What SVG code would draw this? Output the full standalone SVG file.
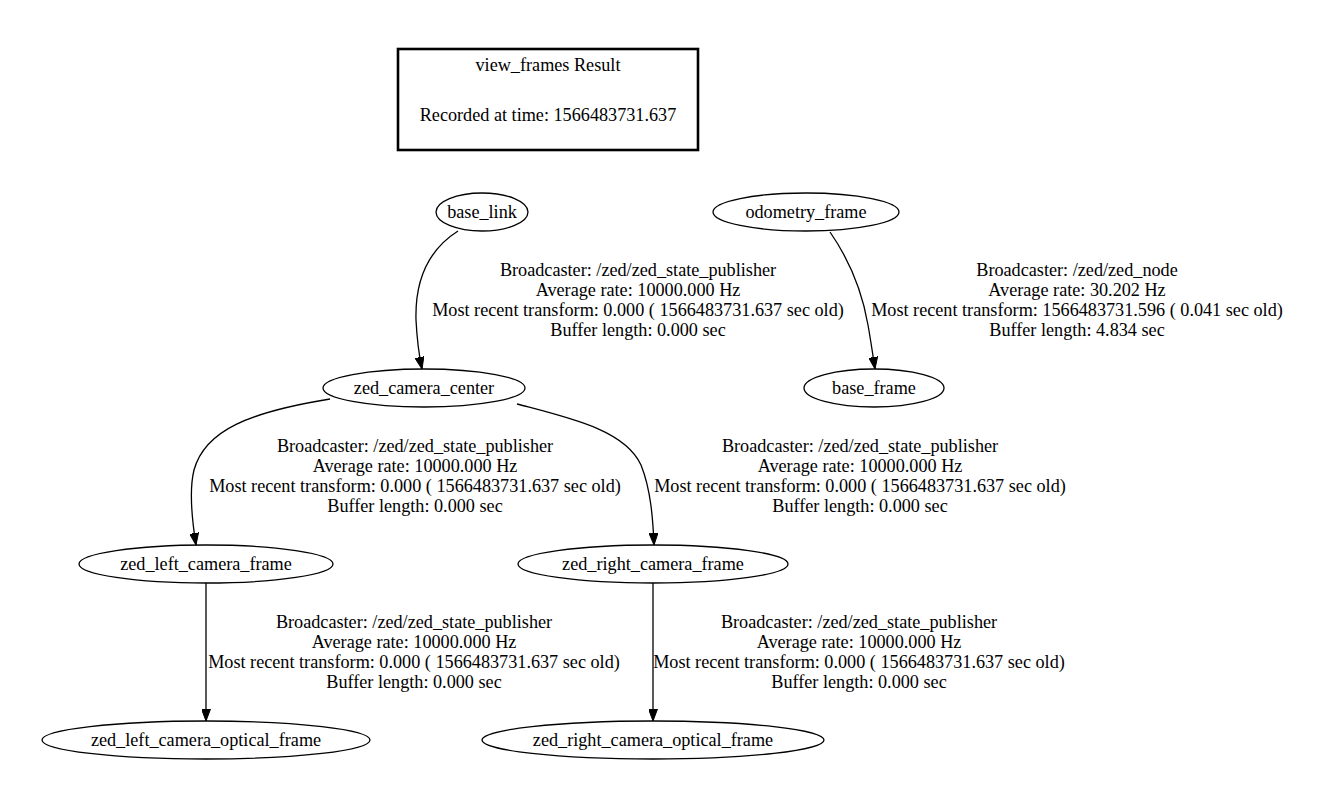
<svg xmlns="http://www.w3.org/2000/svg" width="1317" height="803" viewBox="0 0 1317 803">
<defs>
<style>
text{font-family:'Liberation Serif',serif;font-size:18.2px;fill:#000;text-anchor:middle}
.node ellipse{fill:none;stroke:#000;stroke-width:1.3}
.edges path{fill:none;stroke:#000;stroke-width:1.3}
</style>
<marker id="arr" markerUnits="userSpaceOnUse" viewBox="0 0 12 9" refX="12" refY="4.5" markerWidth="12" markerHeight="9" orient="auto">
<path d="M0,0 L12,4.5 L0,9 z" fill="#000" stroke="#000"/>
</marker>
</defs>
<rect width="1317" height="803" fill="#fff"/>
<g font-family="Liberation Serif, serif" font-size="18.2">
<g id="result">
<rect x="398" y="49" width="300" height="101" fill="none" stroke="#000" stroke-width="2.6"/>
<text x="548" y="71">view_frames Result</text>
<text x="548" y="121">Recorded at time: 1566483731.637</text>
</g>
<g class="edges" id="edges">
<path d="M458,231 C425,252 415,285 416,320 C417,340 419,355 422,369" marker-end="url(#arr)"/>
<path d="M830,232 C848,258 862,290 868,325 C871,342 873,356 875,369" marker-end="url(#arr)"/>
<path d="M330,399 C250,412 205,430 194,470 C189,490 192,520 196,545" marker-end="url(#arr)"/>
<path d="M517,404 C570,418 625,430 641,465 C651,490 653,520 654,545" marker-end="url(#arr)"/>
<path d="M206,583 L206,721" marker-end="url(#arr)"/>
<path d="M653,583 L653,721" marker-end="url(#arr)"/>
<g id="edge-labels">
<text x="638" y="276">Broadcaster: /zed/zed_state_publisher</text>
<text x="638" y="296">Average rate: 10000.000 Hz</text>
<text x="638" y="316">Most recent transform: 0.000 ( 1566483731.637 sec old)</text>
<text x="638" y="336">Buffer length: 0.000 sec</text>
<text x="1077" y="276">Broadcaster: /zed/zed_node</text>
<text x="1077" y="296">Average rate: 30.202 Hz</text>
<text x="1077" y="316">Most recent transform: 1566483731.596 ( 0.041 sec old)</text>
<text x="1077" y="336">Buffer length: 4.834 sec</text>
<text x="415" y="452">Broadcaster: /zed/zed_state_publisher</text>
<text x="415" y="472">Average rate: 10000.000 Hz</text>
<text x="415" y="492">Most recent transform: 0.000 ( 1566483731.637 sec old)</text>
<text x="415" y="512">Buffer length: 0.000 sec</text>
<text x="860" y="452">Broadcaster: /zed/zed_state_publisher</text>
<text x="860" y="472">Average rate: 10000.000 Hz</text>
<text x="860" y="492">Most recent transform: 0.000 ( 1566483731.637 sec old)</text>
<text x="860" y="512">Buffer length: 0.000 sec</text>
<text x="414" y="628">Broadcaster: /zed/zed_state_publisher</text>
<text x="414" y="648">Average rate: 10000.000 Hz</text>
<text x="414" y="668">Most recent transform: 0.000 ( 1566483731.637 sec old)</text>
<text x="414" y="688">Buffer length: 0.000 sec</text>
<text x="859" y="628">Broadcaster: /zed/zed_state_publisher</text>
<text x="859" y="648">Average rate: 10000.000 Hz</text>
<text x="859" y="668">Most recent transform: 0.000 ( 1566483731.637 sec old)</text>
<text x="859" y="688">Buffer length: 0.000 sec</text>
</g>
</g>
<g class="node" id="base_link"><ellipse cx="482" cy="212" rx="46" ry="19"/><text x="482" y="218">base_link</text></g>
<g class="node" id="odometry_frame"><ellipse cx="806" cy="212" rx="93" ry="19"/><text x="806" y="218">odometry_frame</text></g>
<g class="node" id="zed_camera_center"><ellipse cx="424" cy="388" rx="101" ry="19"/><text x="424" y="394">zed_camera_center</text></g>
<g class="node" id="base_frame"><ellipse cx="874" cy="388" rx="70" ry="19"/><text x="874" y="394">base_frame</text></g>
<g class="node" id="zed_left_camera_frame"><ellipse cx="206" cy="564" rx="127" ry="19"/><text x="206" y="570">zed_left_camera_frame</text></g>
<g class="node" id="zed_right_camera_frame"><ellipse cx="653" cy="564" rx="135" ry="19"/><text x="653" y="570">zed_right_camera_frame</text></g>
<g class="node" id="zed_left_camera_optical_frame"><ellipse cx="206" cy="740" rx="164" ry="19"/><text x="206" y="746">zed_left_camera_optical_frame</text></g>
<g class="node" id="zed_right_camera_optical_frame"><ellipse cx="653" cy="740" rx="171" ry="19"/><text x="653" y="746">zed_right_camera_optical_frame</text></g>
</g>
</svg>
